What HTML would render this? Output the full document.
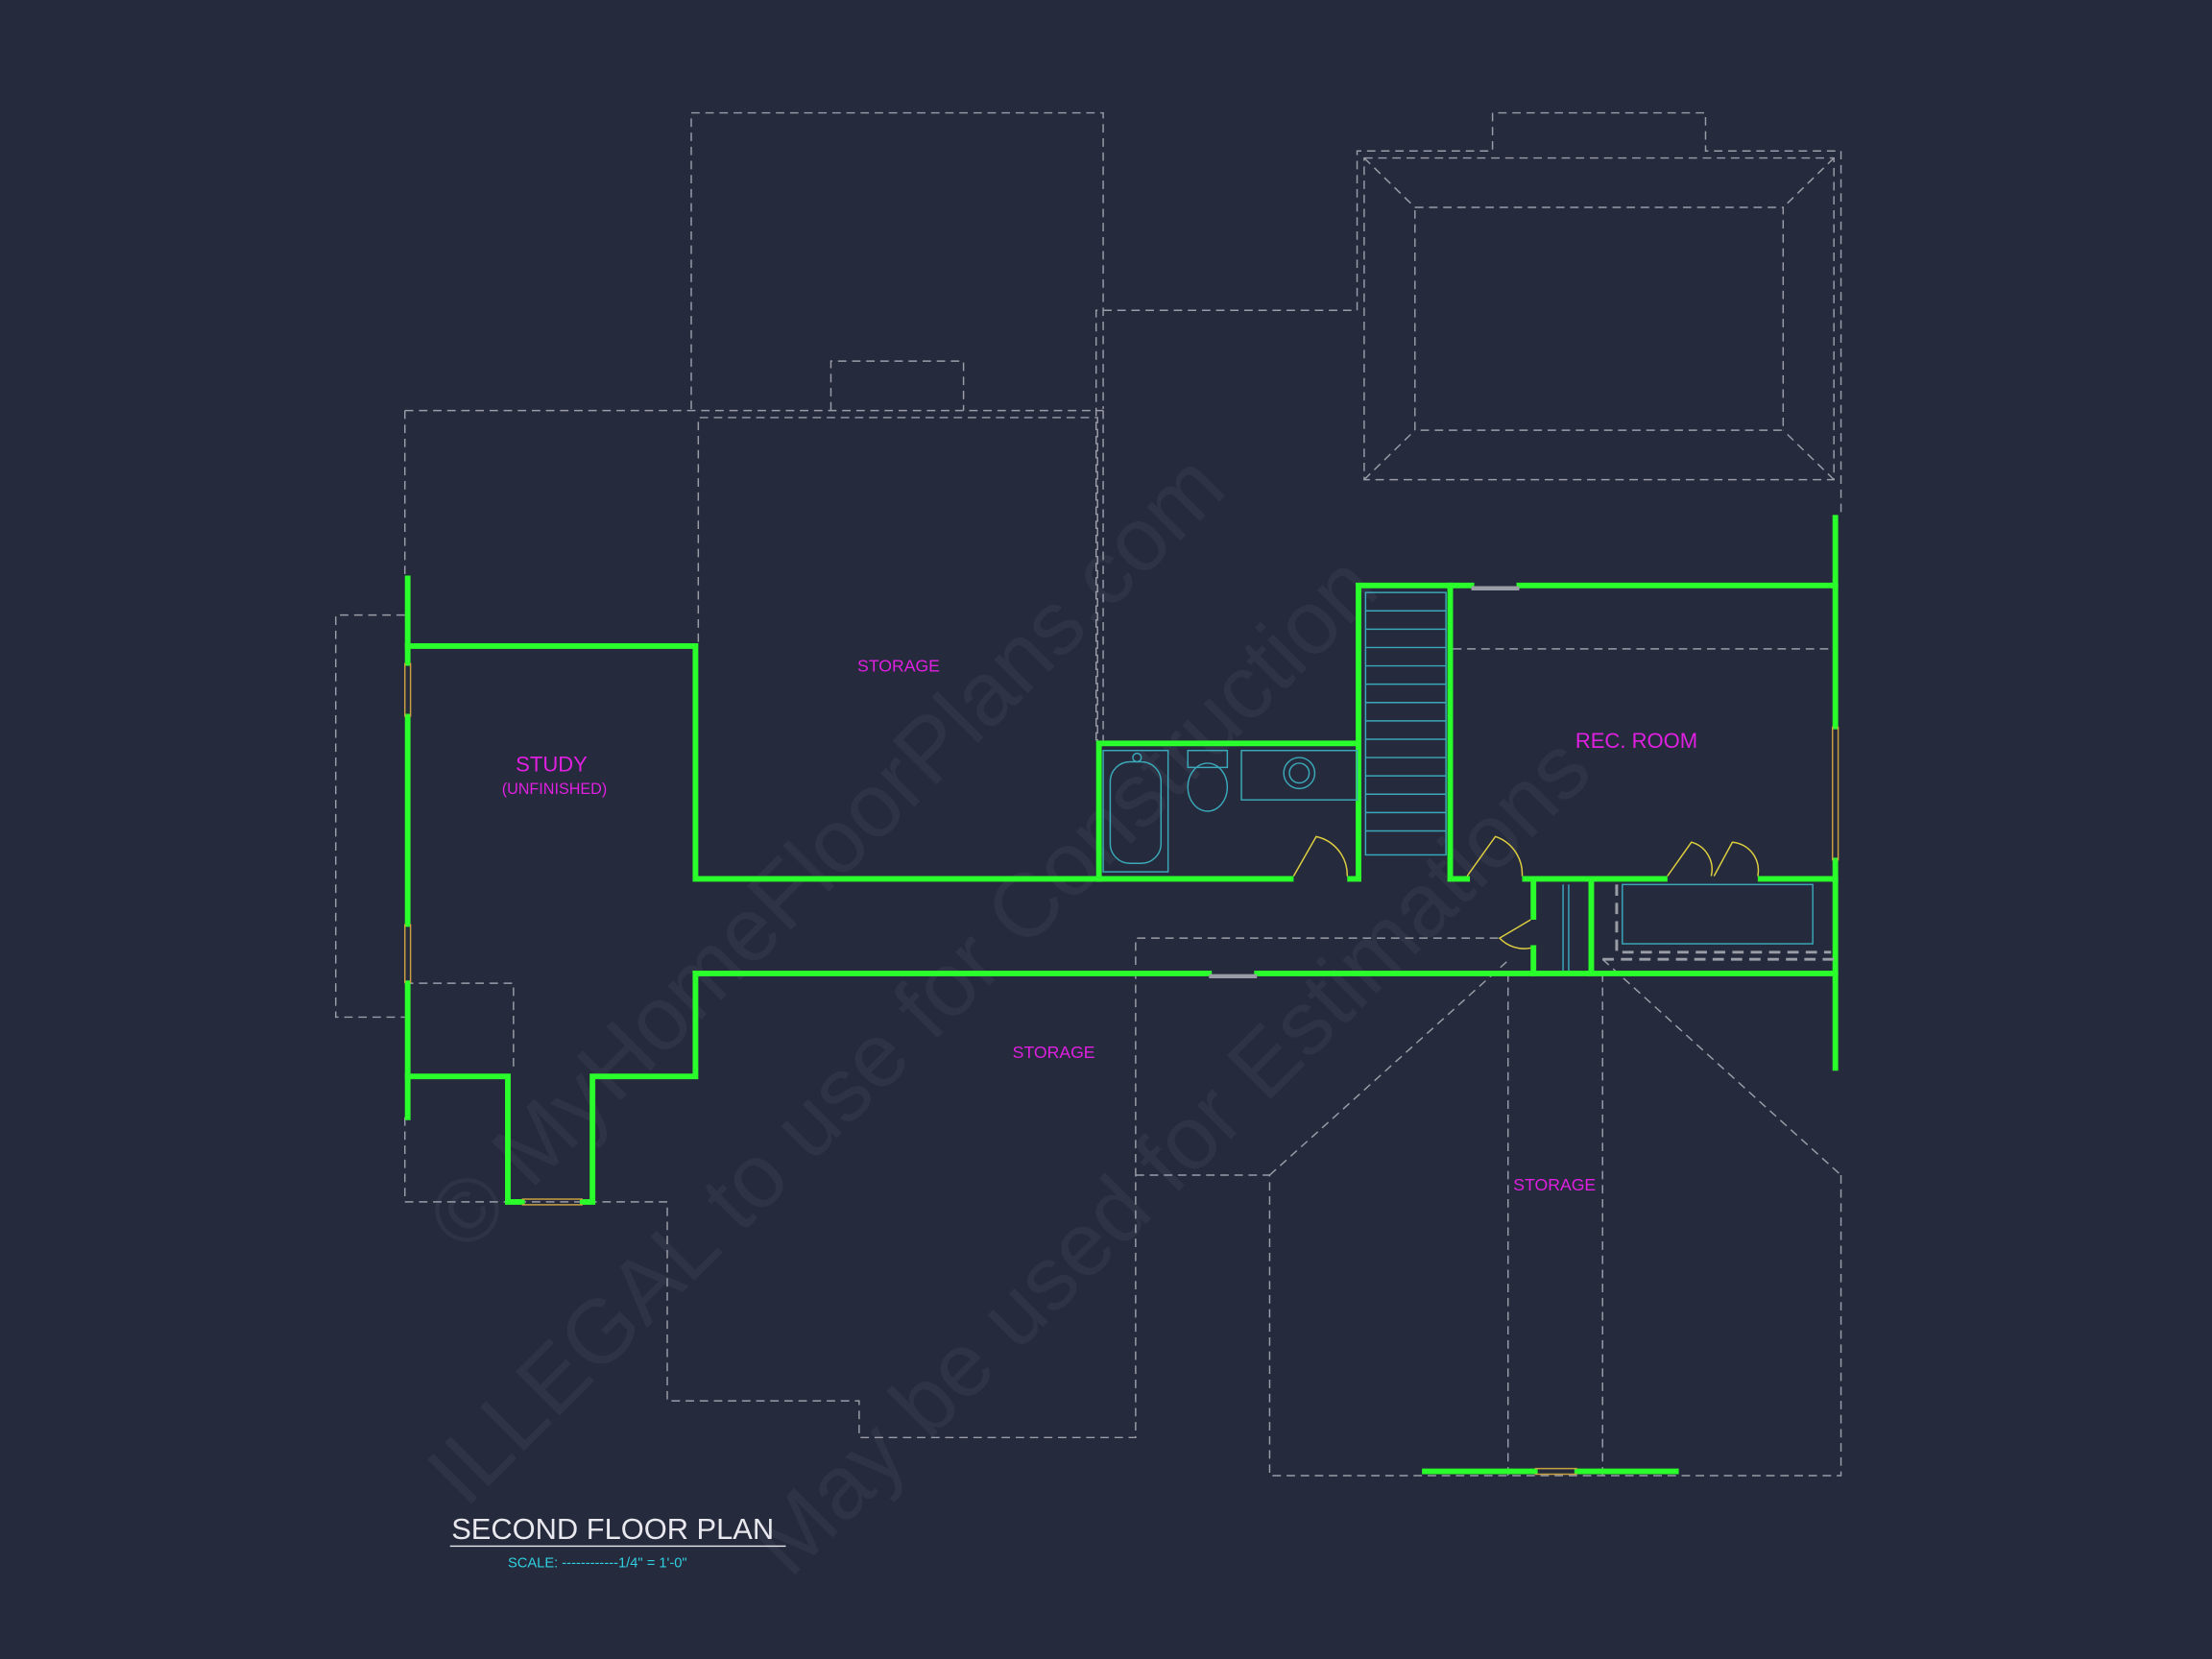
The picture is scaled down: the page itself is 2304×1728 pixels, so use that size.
<!DOCTYPE html>
<html><head><meta charset="utf-8">
<style>
html,body{margin:0;padding:0;background:#252a3c;}
svg{display:block;}
text{font-family:"Liberation Sans",sans-serif;}
</style></head>
<body>
<svg width="2304" height="1728" viewBox="0 0 1568 1176" xmlns="http://www.w3.org/2000/svg">
<rect width="1568" height="1176" fill="#252a3c"/>
<!-- watermark -->
<g fill="#8a8fa0" opacity="0.09" font-family="Liberation Serif,serif">
<text x="0" y="0" font-size="64" transform="translate(330,890) rotate(-45)">© MyHomeFloorPlans.com</text>
<text x="0" y="0" font-size="64" transform="translate(330,1070) rotate(-45)">ILLEGAL to use for Construction</text>
<text x="0" y="0" font-size="64" transform="translate(560,1120) rotate(-45)">May be used for Estimations</text>
</g>
<!-- dashed outlines -->
<g fill="none" stroke="#9a9ca6" stroke-width="1" stroke-dasharray="6 4">
<path d="M490,290 V80 H782 V290"/>
<path d="M589,291 V256 H683 V291"/>
<path d="M287,291 H782"/>
<path d="M495,455 V296 H778 V525"/>
<path d="M782,291 V525"/>
<path d="M287,291 V410"/>
<path d="M287,436 H238 V721 H287"/>
<path d="M777,525 V220 H960"/>
<path d="M962,220 V107 H1058 V80 H1209 V107 H1305 V365"/>
<path d="M967,112 H1300 V340 H967 Z"/>
<path d="M1003,147 H1264 V305 H1003 Z"/>
<path d="M967,112 L1003,147 M1300,112 L1264,147 M967,340 L1003,305 M1300,340 L1264,305"/>
<path d="M1030,460 H1300"/>
<path d="M287,697 H364 V760"/>
<path d="M287,792 V852 H473 V993 H609 V1019 H805 V665 H1062"/>
<path d="M805,833 H900 V1046 H1305 V833"/>
<path d="M900,833 L1070,680 M1136,680 L1305,833"/>
<path d="M1069,690 V1046 M1136,690 V1046"/>
</g>
<!-- green walls -->
<g fill="none" stroke="#2bff2b" stroke-width="4" stroke-linecap="square">
<path d="M289,410 V470 M289,508 V655 M289,697 V792"/>
<path d="M289,458 H493 V623 H915"/>
<path d="M779,623 V527 H963 M957,623 H963 V415 H1043 M1077,415 H1301"/>
<path d="M1028,415 V623 H1040"/>
<path d="M1081,623 H1180 M1248,623 H1301"/>
<path d="M1301,367 V515 M1301,610 V757"/>
<path d="M1087,623 V650 M1087,672 V690 M1128,623 V690"/>
<path d="M493,690 H857 M891,690 H1301"/>
<path d="M493,690 V763 H420 V852 H413 M370,852 H360 V763 H289"/>
<path d="M1010,1043 H1088 M1118,1043 H1188"/>
</g>
<!-- windows -->
<g stroke="#c8a040" stroke-width="1" fill="none">
<path d="M287,470 V508 M291,470 V508 M287,655 V697 M291,655 V697"/>
<path d="M370,850 H413 M370,854 H413 M1088,1041 H1118 M1088,1045 H1118"/>
<path d="M1299,515 V610 M1303,515 V610"/>
</g>
<g stroke="#9a9ca6" stroke-width="3"><path d="M857,692 H891 M1043,417 H1077"/></g>
<!-- stairs -->
<g stroke="#3aa8b8" stroke-width="1" fill="none">
<rect x="968" y="420" width="57" height="186"/>
<path d="M968,433H1025M968,446H1025M968,459H1025M968,472H1025M968,485H1025M968,498H1025M968,511H1025M968,524H1025M968,537H1025M968,550H1025M968,563H1025M968,576H1025M968,589H1025"/>
<path d="M1108,627 V688 M1112,627 V688"/>
<rect x="1150" y="627" width="135" height="42"/>
</g>
<g stroke="#9a9ca6" stroke-width="2" stroke-dasharray="8 5" fill="none"><path d="M1146,627 V675 H1298 M1136,680 H1300"/></g>
<!-- bath fixtures -->
<g stroke="#3aa8b8" stroke-width="1" fill="none">
<rect x="782" y="532" width="46" height="86"/>
<rect x="787" y="540" width="36" height="72" rx="14"/>
<circle cx="806" cy="537" r="3"/>
<rect x="842" y="532" width="28" height="12"/>
<ellipse cx="856" cy="558" rx="14" ry="17"/>
<rect x="880" y="532" width="82" height="35"/>
<circle cx="921" cy="548" r="11"/><circle cx="921" cy="548" r="7"/>
</g>
<!-- doors -->
<g stroke="#e0d040" stroke-width="1" fill="none">
<path d="M917,621 L933,593 A28,28 0 0,1 955,621"/>
<path d="M1040,621 L1060,593 A28,28 0 0,1 1079,621"/>
<path d="M1182,621 L1199,597 A20,20 0 0,1 1213,621 M1215,621 L1228,597 A20,20 0 0,1 1246,621"/>
<path d="M1085,652 L1063,665 A24,24 0 0,0 1085,672"/>
</g>
<!-- labels -->
<g fill="#e020e0" text-anchor="middle">
<text x="637" y="476" font-size="12">STORAGE</text>
<text x="391" y="547" font-size="15">STUDY</text>
<text x="393" y="563" font-size="11">(UNFINISHED)</text>
<text x="1160" y="530" font-size="15">REC. ROOM</text>
<text x="747" y="750" font-size="12">STORAGE</text>
<text x="1102" y="844" font-size="12">STORAGE</text>
</g>
<text x="320" y="1091" font-size="21" fill="#e8e8ee">SECOND FLOOR PLAN</text>
<path d="M319,1096 H557" stroke="#e8e8ee" stroke-width="1"/>
<text x="360" y="1111" font-size="10" fill="#30d0e0">SCALE: ------------1/4" = 1'-0"</text>
</svg>
</body></html>
